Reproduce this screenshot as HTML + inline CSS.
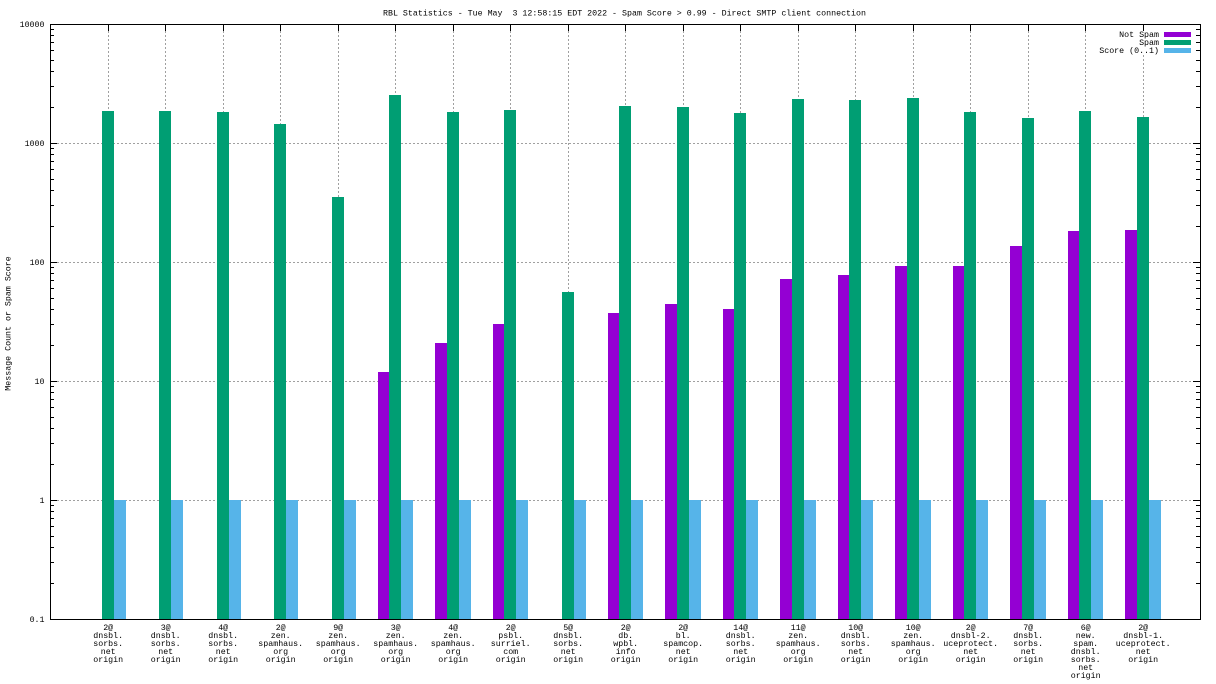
<!DOCTYPE html>
<html><head><meta charset="utf-8"><style>
html,body{margin:0;padding:0;background:#fff;}
svg{display:block;}
text{font-family:"Liberation Mono","DejaVu Sans Mono",monospace;font-size:8.3px;fill:#000;}
</style></head><body>
<svg width="1216" height="684" viewBox="0 0 1216 684" xmlns="http://www.w3.org/2000/svg">
<rect x="0" y="0" width="1216" height="684" fill="#fff"/>
<!-- grid -->
<g stroke="#a0a0a0" stroke-width="1" stroke-dasharray="2,2" fill="none" shape-rendering="crispEdges">
<path d="M57 143.5H1193M57 262.5H1193M57 381.5H1193M57 500.5H1193"/>
<path d="M108.5 31V612M165.5 31V612M223.5 31V612M280.5 31V612M338.5 31V612M395.5 31V612M453.5 31V612M510.5 31V612M568.5 31V612M625.5 31V612M683.5 31V612M740.5 31V612M798.5 31V612M855.5 31V612M913.5 31V612M970.5 31V612M1028.5 31V612M1085.5 31V612M1143.5 31V612"/>
</g>
<!-- key opaque area -->
<rect x="1094" y="31" width="101" height="23" fill="#fff"/>
<!-- bars -->
<g shape-rendering="crispEdges">
<g fill="#9400d3">
<rect x="378" y="372" width="11" height="247"/>
<rect x="435" y="343" width="12" height="276"/>
<rect x="493" y="324" width="11" height="295"/>
<rect x="608" y="313" width="11" height="306"/>
<rect x="665" y="304" width="12" height="315"/>
<rect x="723" y="309" width="11" height="310"/>
<rect x="780" y="279" width="12" height="340"/>
<rect x="838" y="275" width="11" height="344"/>
<rect x="895" y="266" width="12" height="353"/>
<rect x="953" y="266" width="11" height="353"/>
<rect x="1010" y="246" width="12" height="373"/>
<rect x="1068" y="231" width="11" height="388"/>
<rect x="1125" y="230" width="12" height="389"/>
</g>
<g fill="#009e73">
<rect x="102" y="111" width="12" height="508"/>
<rect x="159" y="111" width="12" height="508"/>
<rect x="217" y="112" width="12" height="507"/>
<rect x="274" y="124" width="12" height="495"/>
<rect x="332" y="197" width="12" height="422"/>
<rect x="389" y="95" width="12" height="524"/>
<rect x="447" y="112" width="12" height="507"/>
<rect x="504" y="110" width="12" height="509"/>
<rect x="562" y="292" width="12" height="327"/>
<rect x="619" y="106" width="12" height="513"/>
<rect x="677" y="107" width="12" height="512"/>
<rect x="734" y="113" width="12" height="506"/>
<rect x="792" y="99" width="12" height="520"/>
<rect x="849" y="100" width="12" height="519"/>
<rect x="907" y="98" width="12" height="521"/>
<rect x="964" y="112" width="12" height="507"/>
<rect x="1022" y="118" width="12" height="501"/>
<rect x="1079" y="111" width="12" height="508"/>
<rect x="1137" y="117" width="12" height="502"/>
</g>
<g fill="#56b4e9">
<rect x="114" y="500" width="12" height="119"/>
<rect x="171" y="500" width="12" height="119"/>
<rect x="229" y="500" width="12" height="119"/>
<rect x="286" y="500" width="12" height="119"/>
<rect x="344" y="500" width="12" height="119"/>
<rect x="401" y="500" width="12" height="119"/>
<rect x="459" y="500" width="12" height="119"/>
<rect x="516" y="500" width="12" height="119"/>
<rect x="574" y="500" width="12" height="119"/>
<rect x="631" y="500" width="12" height="119"/>
<rect x="689" y="500" width="12" height="119"/>
<rect x="746" y="500" width="12" height="119"/>
<rect x="804" y="500" width="12" height="119"/>
<rect x="861" y="500" width="12" height="119"/>
<rect x="919" y="500" width="12" height="119"/>
<rect x="976" y="500" width="12" height="119"/>
<rect x="1034" y="500" width="12" height="119"/>
<rect x="1091" y="500" width="12" height="119"/>
<rect x="1149" y="500" width="12" height="119"/>
</g>
<!-- legend swatches -->
<rect x="1164" y="32" width="27" height="5" fill="#9400d3"/>
<rect x="1164" y="40" width="27" height="5" fill="#009e73"/>
<rect x="1164" y="48" width="27" height="5" fill="#56b4e9"/>
</g>
<!-- border and ticks -->
<g stroke="#000" stroke-width="1" fill="none" shape-rendering="crispEdges">
<rect x="50.5" y="24.5" width="1150" height="595"/>
<path d="M50 143.5h7M50 262.5h7M50 381.5h7M50 500.5h7M1200 143.5h-7M1200 262.5h-7M1200 381.5h-7M1200 500.5h-7"/>
<path d="M50 583.5h4M50 562.5h4M50 547.5h4M50 536.5h4M50 526.5h4M50 518.5h4M50 511.5h4M50 505.5h4
M50 464.5h4M50 443.5h4M50 428.5h4M50 417.5h4M50 407.5h4M50 399.5h4M50 392.5h4M50 386.5h4
M50 345.5h4M50 324.5h4M50 309.5h4M50 298.5h4M50 288.5h4M50 280.5h4M50 273.5h4M50 267.5h4
M50 226.5h4M50 205.5h4M50 190.5h4M50 179.5h4M50 169.5h4M50 161.5h4M50 154.5h4M50 148.5h4
M50 107.5h4M50 86.5h4M50 71.5h4M50 60.5h4M50 50.5h4M50 42.5h4M50 35.5h4M50 29.5h4
M1200 583.5h-4M1200 562.5h-4M1200 547.5h-4M1200 536.5h-4M1200 526.5h-4M1200 518.5h-4M1200 511.5h-4M1200 505.5h-4
M1200 464.5h-4M1200 443.5h-4M1200 428.5h-4M1200 417.5h-4M1200 407.5h-4M1200 399.5h-4M1200 392.5h-4M1200 386.5h-4
M1200 345.5h-4M1200 324.5h-4M1200 309.5h-4M1200 298.5h-4M1200 288.5h-4M1200 280.5h-4M1200 273.5h-4M1200 267.5h-4
M1200 226.5h-4M1200 205.5h-4M1200 190.5h-4M1200 179.5h-4M1200 169.5h-4M1200 161.5h-4M1200 154.5h-4M1200 148.5h-4
M1200 107.5h-4M1200 86.5h-4M1200 71.5h-4M1200 60.5h-4M1200 50.5h-4M1200 42.5h-4M1200 35.5h-4M1200 29.5h-4"/>
<path d="M108.5 24v7M165.5 24v7M223.5 24v7M280.5 24v7M338.5 24v7M395.5 24v7M453.5 24v7M510.5 24v7M568.5 24v7M625.5 24v7M683.5 24v7M740.5 24v7M798.5 24v7M855.5 24v7M913.5 24v7M970.5 24v7M1028.5 24v7M1085.5 24v7M1143.5 24v7"/>
</g>
<!-- title -->
<text x="624.5" y="15.5" text-anchor="middle" style="white-space:pre" xml:space="preserve">RBL Statistics - Tue May  3 12:58:15 EDT 2022 - Spam Score &gt; 0.99 - Direct SMTP client connection</text>
<!-- y tick labels -->
<g text-anchor="end">
<text x="44.5" y="27">10000</text>
<text x="44.5" y="146">1000</text>
<text x="44.5" y="265">100</text>
<text x="44.5" y="384">10</text>
<text x="44.5" y="503">1</text>
<text x="44.5" y="622">0.1</text>
</g>
<text transform="translate(10.7,323.5) rotate(-90)" text-anchor="middle">Message Count or Spam Score</text>
<!-- legend -->
<g text-anchor="end">
<text x="1159" y="37">Not Spam</text>
<text x="1159" y="45">Spam</text>
<text x="1159" y="53">Score (0..1)</text>
</g>
<!-- x labels -->
<g text-anchor="middle">
<text x="108.2" y="630">2@<tspan x="108.2" dy="8">dnsbl.</tspan><tspan x="108.2" dy="8">sorbs.</tspan><tspan x="108.2" dy="8">net</tspan><tspan x="108.2" dy="8">origin</tspan></text>
<text x="165.7" y="630">3@<tspan x="165.7" dy="8">dnsbl.</tspan><tspan x="165.7" dy="8">sorbs.</tspan><tspan x="165.7" dy="8">net</tspan><tspan x="165.7" dy="8">origin</tspan></text>
<text x="223.2" y="630">4@<tspan x="223.2" dy="8">dnsbl.</tspan><tspan x="223.2" dy="8">sorbs.</tspan><tspan x="223.2" dy="8">net</tspan><tspan x="223.2" dy="8">origin</tspan></text>
<text x="280.7" y="630">2@<tspan x="280.7" dy="8">zen.</tspan><tspan x="280.7" dy="8">spamhaus.</tspan><tspan x="280.7" dy="8">org</tspan><tspan x="280.7" dy="8">origin</tspan></text>
<text x="338.2" y="630">9@<tspan x="338.2" dy="8">zen.</tspan><tspan x="338.2" dy="8">spamhaus.</tspan><tspan x="338.2" dy="8">org</tspan><tspan x="338.2" dy="8">origin</tspan></text>
<text x="395.7" y="630">3@<tspan x="395.7" dy="8">zen.</tspan><tspan x="395.7" dy="8">spamhaus.</tspan><tspan x="395.7" dy="8">org</tspan><tspan x="395.7" dy="8">origin</tspan></text>
<text x="453.2" y="630">4@<tspan x="453.2" dy="8">zen.</tspan><tspan x="453.2" dy="8">spamhaus.</tspan><tspan x="453.2" dy="8">org</tspan><tspan x="453.2" dy="8">origin</tspan></text>
<text x="510.7" y="630">2@<tspan x="510.7" dy="8">psbl.</tspan><tspan x="510.7" dy="8">surriel.</tspan><tspan x="510.7" dy="8">com</tspan><tspan x="510.7" dy="8">origin</tspan></text>
<text x="568.2" y="630">5@<tspan x="568.2" dy="8">dnsbl.</tspan><tspan x="568.2" dy="8">sorbs.</tspan><tspan x="568.2" dy="8">net</tspan><tspan x="568.2" dy="8">origin</tspan></text>
<text x="625.7" y="630">2@<tspan x="625.7" dy="8">db.</tspan><tspan x="625.7" dy="8">wpbl.</tspan><tspan x="625.7" dy="8">info</tspan><tspan x="625.7" dy="8">origin</tspan></text>
<text x="683.2" y="630">2@<tspan x="683.2" dy="8">bl.</tspan><tspan x="683.2" dy="8">spamcop.</tspan><tspan x="683.2" dy="8">net</tspan><tspan x="683.2" dy="8">origin</tspan></text>
<text x="740.7" y="630">14@<tspan x="740.7" dy="8">dnsbl.</tspan><tspan x="740.7" dy="8">sorbs.</tspan><tspan x="740.7" dy="8">net</tspan><tspan x="740.7" dy="8">origin</tspan></text>
<text x="798.2" y="630">11@<tspan x="798.2" dy="8">zen.</tspan><tspan x="798.2" dy="8">spamhaus.</tspan><tspan x="798.2" dy="8">org</tspan><tspan x="798.2" dy="8">origin</tspan></text>
<text x="855.7" y="630">10@<tspan x="855.7" dy="8">dnsbl.</tspan><tspan x="855.7" dy="8">sorbs.</tspan><tspan x="855.7" dy="8">net</tspan><tspan x="855.7" dy="8">origin</tspan></text>
<text x="913.2" y="630">10@<tspan x="913.2" dy="8">zen.</tspan><tspan x="913.2" dy="8">spamhaus.</tspan><tspan x="913.2" dy="8">org</tspan><tspan x="913.2" dy="8">origin</tspan></text>
<text x="970.7" y="630">2@<tspan x="970.7" dy="8">dnsbl-2.</tspan><tspan x="970.7" dy="8">uceprotect.</tspan><tspan x="970.7" dy="8">net</tspan><tspan x="970.7" dy="8">origin</tspan></text>
<text x="1028.2" y="630">7@<tspan x="1028.2" dy="8">dnsbl.</tspan><tspan x="1028.2" dy="8">sorbs.</tspan><tspan x="1028.2" dy="8">net</tspan><tspan x="1028.2" dy="8">origin</tspan></text>
<text x="1085.7" y="630">6@<tspan x="1085.7" dy="8">new.</tspan><tspan x="1085.7" dy="8">spam.</tspan><tspan x="1085.7" dy="8">dnsbl.</tspan><tspan x="1085.7" dy="8">sorbs.</tspan><tspan x="1085.7" dy="8">net</tspan><tspan x="1085.7" dy="8">origin</tspan></text>
<text x="1143.2" y="630">2@<tspan x="1143.2" dy="8">dnsbl-1.</tspan><tspan x="1143.2" dy="8">uceprotect.</tspan><tspan x="1143.2" dy="8">net</tspan><tspan x="1143.2" dy="8">origin</tspan></text>
</g>
</svg>
</body></html>
